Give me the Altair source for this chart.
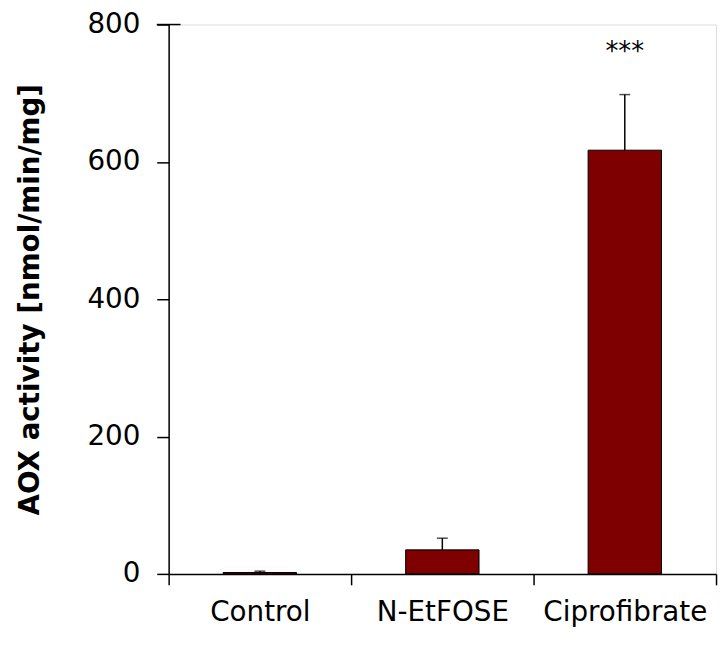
import altair as alt
import pandas as pd

categories = ["Control", "N-EtFOSE", "Ciprofibrate"]
means = [2, 35, 617]
errors = [2, 17, 81]
stars = ["", "", "***"]
star_pos = [748, 748, 748]

df = pd.DataFrame({"group": categories, "mean": means, "err": errors})
df["upper"] = df["mean"] + df["err"]
sdf = pd.DataFrame({"group": categories, "label": stars, "pos": star_pos})
sdf = sdf[sdf["label"] != ""]

xenc = alt.X(
    "group:N",
    sort=categories,
    scale=alt.Scale(paddingInner=0, paddingOuter=0),
    axis=alt.Axis(
        title=None,
        labelAngle=0,
        tickBand="extent",
        tickSize=11,
        labelPadding=14,
        labelFontSize=28,
        labelFont="DejaVu Sans",
        labelColor="black",
        domainColor="black",
        tickColor="black",
        domainWidth=1.5,
        tickWidth=1.5,
    ),
)

yscale = alt.Scale(domain=[0, 800], nice=False)

bars = alt.Chart(df).mark_bar(width=74, color="#7f0000", stroke="black", strokeWidth=1).encode(
    x=xenc,
    y=alt.Y(
        "mean:Q",
        scale=yscale,
        axis=alt.Axis(
            title="AOX activity [nmol/min/mg]",
            values=[0, 200, 400, 600, 800],
            grid=False,
            tickSize=12,
            labelPadding=17,
            labelFontSize=28,
            labelFont="DejaVu Sans",
            labelColor="black",
            titleFont="DejaVu Sans",
            titleFontSize=28,
            titleFontWeight="bold",
            titleColor="black",
            titlePadding=43,
            domainColor="black",
            tickColor="black",
            domainWidth=1.5,
            tickWidth=1.5,
        ),
    ),
)

rules = alt.Chart(df).mark_rule(color="black", strokeWidth=1.5).encode(
    x=alt.X("group:N", sort=categories),
    y="mean:Q",
    y2="upper:Q",
)

caps = alt.Chart(df).mark_tick(color="black", size=11, thickness=1.5, orient="horizontal").encode(
    x=alt.X("group:N", sort=categories),
    y="upper:Q",
)

top_tick = alt.Chart(pd.DataFrame({"v": [800]})).mark_rule(color="black", strokeWidth=1.5).encode(
    y=alt.Y("v:Q", scale=yscale),
    x=alt.value(-12),
    x2=alt.value(12),
)

text = alt.Chart(sdf).mark_text(
    fontSize=26, font="DejaVu Sans", color="black", baseline="alphabetic", align="center"
).encode(
    x=alt.X("group:N", sort=categories),
    y="pos:Q",
    text="label:N",
)

chart = (
    alt.layer(bars, rules, caps, top_tick, text)
    .properties(
        width=552,
        height=554,
        autosize=alt.AutoSizeParams(type="none"),
        padding={"left": 162, "top": 14, "right": 4, "bottom": 66},
    )
    .configure_view(stroke=None)
    .configure(background="white")
)

chart.save("out.html", embed_options={"renderer": "svg", "actions": False})
